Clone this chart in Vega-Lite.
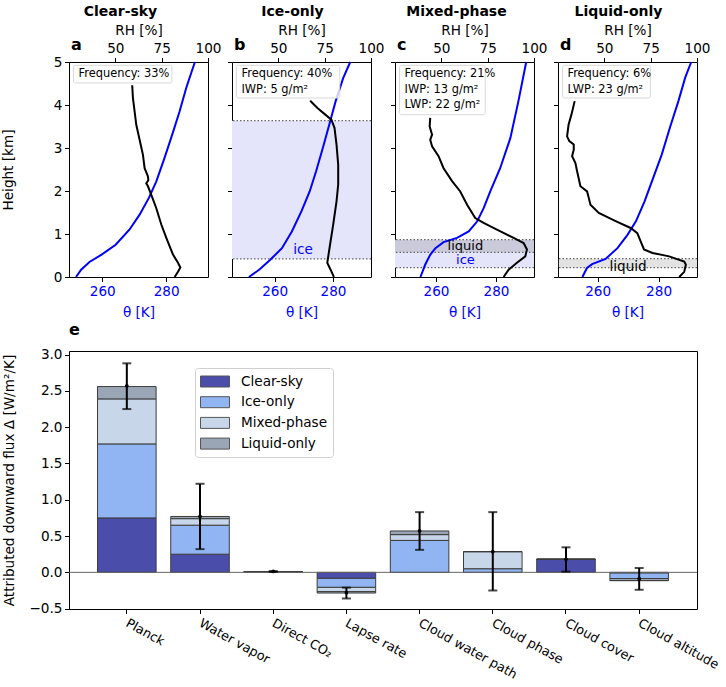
{
  "$schema": "https://vega.github.io/schema/vega-lite/v6.json",
  "padding": {"left": 0, "top": 4, "right": 0, "bottom": 0},
  "config": {
    "font": "DejaVu Sans",
    "view": {"stroke": "#000", "strokeWidth": 1},
    "axis": {"domain": false, "grid": false, "tickColor": "#000", "tickSize": 4.5, "tickWidth": 1, "labelFontSize": 13.6, "titleFontSize": 13.6, "titleFontWeight": "normal", "labelColor": "#000", "titleColor": "#000", "labelPadding": 2.5, "labelFlush": false, "labelOverlap": false, "titlePadding": 4},
    "axisY": {"labelOverlap": false},
    "title": {"fontSize": 14, "fontWeight": "bold", "color": "#000", "offset": 4}
  },
  "datasets": {
    "theta": [
      {"p": "a", "h": 0.0, "t": 251.8}, {"p": "a", "h": 0.17, "t": 253.4}, {"p": "a", "h": 0.35, "t": 256.0}, {"p": "a", "h": 0.52, "t": 259.8}, {"p": "a", "h": 0.75, "t": 264.2}, {"p": "a", "h": 1.1, "t": 268.5}, {"p": "a", "h": 1.45, "t": 271.7}, {"p": "a", "h": 1.84, "t": 274.6}, {"p": "a", "h": 2.22, "t": 276.9}, {"p": "a", "h": 2.77, "t": 279.5}, {"p": "a", "h": 3.31, "t": 281.9}, {"p": "a", "h": 3.85, "t": 284.2}, {"p": "a", "h": 4.4, "t": 286.3}, {"p": "a", "h": 5.0, "t": 289.0},
      {"p": "b", "h": 0.0, "t": 251.2}, {"p": "b", "h": 0.17, "t": 254.7}, {"p": "b", "h": 0.4, "t": 258.5}, {"p": "b", "h": 0.67, "t": 262.5}, {"p": "b", "h": 1.06, "t": 265.9}, {"p": "b", "h": 1.53, "t": 269.2}, {"p": "b", "h": 1.99, "t": 272.0}, {"p": "b", "h": 2.46, "t": 274.2}, {"p": "b", "h": 3.0, "t": 276.5}, {"p": "b", "h": 3.54, "t": 278.7}, {"p": "b", "h": 4.09, "t": 280.9}, {"p": "b", "h": 4.63, "t": 283.5}, {"p": "b", "h": 5.0, "t": 285.9},
      {"p": "c", "h": 0.0, "t": 254.8}, {"p": "c", "h": 0.29, "t": 256.4}, {"p": "c", "h": 0.52, "t": 258.1}, {"p": "c", "h": 0.67, "t": 259.8}, {"p": "c", "h": 0.81, "t": 262.5}, {"p": "c", "h": 0.91, "t": 267.0}, {"p": "c", "h": 1.06, "t": 270.9}, {"p": "c", "h": 1.29, "t": 273.7}, {"p": "c", "h": 1.6, "t": 275.9}, {"p": "c", "h": 1.99, "t": 278.1}, {"p": "c", "h": 2.53, "t": 281.4}, {"p": "c", "h": 3.23, "t": 284.8}, {"p": "c", "h": 4.09, "t": 287.5}, {"p": "c", "h": 5.0, "t": 290.1},
      {"p": "d", "h": 0.0, "t": 255.0}, {"p": "d", "h": 0.21, "t": 256.5}, {"p": "d", "h": 0.3, "t": 258.2}, {"p": "d", "h": 0.42, "t": 262.6}, {"p": "d", "h": 0.67, "t": 266.5}, {"p": "d", "h": 0.98, "t": 269.8}, {"p": "d", "h": 1.3, "t": 272.6}, {"p": "d", "h": 1.76, "t": 275.4}, {"p": "d", "h": 2.3, "t": 278.2}, {"p": "d", "h": 2.84, "t": 281.0}, {"p": "d", "h": 3.47, "t": 283.7}, {"p": "d", "h": 4.09, "t": 286.5}, {"p": "d", "h": 4.63, "t": 288.7}, {"p": "d", "h": 5.0, "t": 290.7}
    ],
    "rh": [
      {"p": "a", "h": 0.0, "r": 82.0}, {"p": "a", "h": 0.12, "r": 83.8}, {"p": "a", "h": 0.22, "r": 85.1}, {"p": "a", "h": 0.33, "r": 83.8}, {"p": "a", "h": 0.52, "r": 81.1}, {"p": "a", "h": 0.91, "r": 77.5}, {"p": "a", "h": 1.22, "r": 74.8}, {"p": "a", "h": 1.6, "r": 72.1}, {"p": "a", "h": 1.91, "r": 69.4}, {"p": "a", "h": 2.11, "r": 67.6}, {"p": "a", "h": 2.18, "r": 66.7}, {"p": "a", "h": 2.25, "r": 67.8}, {"p": "a", "h": 2.34, "r": 67.6}, {"p": "a", "h": 2.53, "r": 65.8}, {"p": "a", "h": 2.84, "r": 64.9}, {"p": "a", "h": 3.19, "r": 63.1}, {"p": "a", "h": 3.54, "r": 61.3}, {"p": "a", "h": 3.85, "r": 60.4}, {"p": "a", "h": 4.16, "r": 59.5}, {"p": "a", "h": 4.46, "r": 59.1},
      {"p": "b", "h": 0.0, "r": 80.0}, {"p": "b", "h": 0.17, "r": 78.2}, {"p": "b", "h": 0.33, "r": 76.4}, {"p": "b", "h": 0.44, "r": 76.8}, {"p": "b", "h": 0.75, "r": 77.9}, {"p": "b", "h": 1.22, "r": 79.6}, {"p": "b", "h": 1.76, "r": 81.4}, {"p": "b", "h": 2.15, "r": 82.3}, {"p": "b", "h": 2.61, "r": 82.3}, {"p": "b", "h": 3.08, "r": 81.4}, {"p": "b", "h": 3.47, "r": 80.3}, {"p": "b", "h": 3.66, "r": 78.6}, {"p": "b", "h": 3.77, "r": 75.5}, {"p": "b", "h": 3.93, "r": 71.1}, {"p": "b", "h": 4.1, "r": 67.2},
      {"p": "c", "h": 0.0, "r": 83.6}, {"p": "c", "h": 0.17, "r": 86.3}, {"p": "c", "h": 0.33, "r": 90.8}, {"p": "c", "h": 0.48, "r": 95.3}, {"p": "c", "h": 0.64, "r": 96.2}, {"p": "c", "h": 0.79, "r": 94.4}, {"p": "c", "h": 0.91, "r": 89.0}, {"p": "c", "h": 1.1, "r": 80.0}, {"p": "c", "h": 1.26, "r": 72.8}, {"p": "c", "h": 1.37, "r": 68.3}, {"p": "c", "h": 1.68, "r": 63.9}, {"p": "c", "h": 1.99, "r": 60.2}, {"p": "c", "h": 2.23, "r": 55.8}, {"p": "c", "h": 2.53, "r": 51.2}, {"p": "c", "h": 2.81, "r": 48.5}, {"p": "c", "h": 3.04, "r": 45.0}, {"p": "c", "h": 3.19, "r": 44.0}, {"p": "c", "h": 3.31, "r": 45.0}, {"p": "c", "h": 3.5, "r": 43.7}, {"p": "c", "h": 3.7, "r": 44.0},
      {"p": "d", "h": 0.0, "r": 90.4}, {"p": "d", "h": 0.12, "r": 93.1}, {"p": "d", "h": 0.29, "r": 94.0}, {"p": "d", "h": 0.36, "r": 93.1}, {"p": "d", "h": 0.48, "r": 85.0}, {"p": "d", "h": 0.56, "r": 76.0}, {"p": "d", "h": 0.64, "r": 71.4}, {"p": "d", "h": 0.83, "r": 69.6}, {"p": "d", "h": 1.02, "r": 67.8}, {"p": "d", "h": 1.14, "r": 64.2}, {"p": "d", "h": 1.3, "r": 56.1}, {"p": "d", "h": 1.49, "r": 47.0}, {"p": "d", "h": 1.68, "r": 42.5}, {"p": "d", "h": 1.84, "r": 41.6}, {"p": "d", "h": 1.99, "r": 40.7}, {"p": "d", "h": 2.11, "r": 37.1}, {"p": "d", "h": 2.46, "r": 35.3}, {"p": "d", "h": 2.65, "r": 34.4}, {"p": "d", "h": 2.81, "r": 32.6}, {"p": "d", "h": 2.96, "r": 33.5}, {"p": "d", "h": 3.08, "r": 33.5}, {"p": "d", "h": 3.16, "r": 31.1}, {"p": "d", "h": 3.27, "r": 29.9}, {"p": "d", "h": 3.54, "r": 30.7}, {"p": "d", "h": 3.77, "r": 32.2}, {"p": "d", "h": 4.09, "r": 34.0}
    ],
    "flux": [
      {"f": "Planck", "c": "Clear-sky", "v": 0.75}, {"f": "Planck", "c": "Ice-only", "v": 1.02}, {"f": "Planck", "c": "Mixed-phase", "v": 0.62}, {"f": "Planck", "c": "Liquid-only", "v": 0.17},
      {"f": "Water vapor", "c": "Clear-sky", "v": 0.25}, {"f": "Water vapor", "c": "Ice-only", "v": 0.4}, {"f": "Water vapor", "c": "Mixed-phase", "v": 0.09}, {"f": "Water vapor", "c": "Liquid-only", "v": 0.03},
      {"f": "Direct CO₂", "c": "Clear-sky", "v": 0.005}, {"f": "Direct CO₂", "c": "Ice-only", "v": 0.004}, {"f": "Direct CO₂", "c": "Mixed-phase", "v": 0.002}, {"f": "Direct CO₂", "c": "Liquid-only", "v": 0.001},
      {"f": "Lapse rate", "c": "Clear-sky", "v": -0.083}, {"f": "Lapse rate", "c": "Ice-only", "v": -0.124}, {"f": "Lapse rate", "c": "Mixed-phase", "v": -0.059}, {"f": "Lapse rate", "c": "Liquid-only", "v": -0.019},
      {"f": "Cloud water path", "c": "Clear-sky", "v": 0.0}, {"f": "Cloud water path", "c": "Ice-only", "v": 0.44}, {"f": "Cloud water path", "c": "Mixed-phase", "v": 0.08}, {"f": "Cloud water path", "c": "Liquid-only", "v": 0.05},
      {"f": "Cloud phase", "c": "Clear-sky", "v": 0.0}, {"f": "Cloud phase", "c": "Ice-only", "v": 0.05}, {"f": "Cloud phase", "c": "Mixed-phase", "v": 0.235}, {"f": "Cloud phase", "c": "Liquid-only", "v": 0.0},
      {"f": "Cloud cover", "c": "Clear-sky", "v": 0.18}, {"f": "Cloud cover", "c": "Ice-only", "v": 0.0}, {"f": "Cloud cover", "c": "Mixed-phase", "v": 0.0}, {"f": "Cloud cover", "c": "Liquid-only", "v": 0.0},
      {"f": "Cloud altitude", "c": "Clear-sky", "v": -0.01}, {"f": "Cloud altitude", "c": "Ice-only", "v": -0.075}, {"f": "Cloud altitude", "c": "Mixed-phase", "v": -0.025}, {"f": "Cloud altitude", "c": "Liquid-only", "v": -0.005}
    ],
    "err": [
      {"f": "Planck", "m": 2.57, "lo": 2.25, "hi": 2.88},
      {"f": "Water vapor", "m": 0.77, "lo": 0.32, "hi": 1.22},
      {"f": "Direct CO₂", "m": 0.012, "lo": 0.006, "hi": 0.018},
      {"f": "Lapse rate", "m": -0.28, "lo": -0.36, "hi": -0.21},
      {"f": "Cloud water path", "m": 0.57, "lo": 0.31, "hi": 0.83},
      {"f": "Cloud phase", "m": 0.285, "lo": -0.25, "hi": 0.83},
      {"f": "Cloud cover", "m": 0.18, "lo": 0.01, "hi": 0.345},
      {"f": "Cloud altitude", "m": -0.087, "lo": -0.24, "hi": 0.06}
    ]
  },
  "spacing": 1,
  "resolve": {"scale": {"color": "independent"}, "legend": {"color": "independent"}},
  "vconcat": [
    {
      "bounds": "flush",
      "spacing": 24,
      "hconcat": [
        {
          "width": 139, "height": 215,
          "title": {"text": "Clear-sky", "frame": "group", "dx": -18},
          "resolve": {"scale": {"x": "independent"}},
          "layer": [
            {"layer": [
              {"data": {"name": "theta"}, "transform": [{"filter": "datum.p == 'a'"}],
               "mark": {"type": "line", "color": "#0000ff", "strokeWidth": 2},
               "encoding": {
                 "x": {"field": "t", "type": "quantitative", "scale": {"domain": [249.6, 293.1], "nice": false, "zero": false}, "axis": {"orient": "bottom", "values": [260, 280], "title": "θ [K]", "labelColor": "#0000ff", "titleColor": "#0000ff", "titlePadding": 8}},
                 "y": {"field": "h", "type": "quantitative", "scale": {"domain": [0, 5], "nice": false}, "axis": {"values": [0, 1, 2, 3, 4, 5], "title": "Height [km]", "titlePadding": 38}},
                 "order": {"field": "h", "type": "quantitative"}}},
              {"data": {"values": [{}]}, "mark": {"type": "rect", "fill": "white", "fillOpacity": 0.8, "stroke": "#d8d8d8", "strokeWidth": 1, "cornerRadius": 2},
               "encoding": {"x": {"datum": 251.0}, "x2": {"datum": 281.8}, "y": {"datum": 4.923}, "y2": {"datum": 4.512}}},
              {"data": {"values": [{}]}, "mark": {"type": "text", "align": "left", "baseline": "top", "fontSize": 11.4, "lineHeight": 15.7, "text": ["Frequency: 33%"]},
               "encoding": {"x": {"datum": 252.6}, "y": {"datum": 4.86}}},
              {"data": {"values": [{}]}, "mark": {"type": "text", "align": "left", "baseline": "middle", "fontSize": 16, "fontWeight": "bold", "text": "a", "dy": -17, "dx": 2},
               "encoding": {"x": {"datum": 249.6}, "y": {"datum": 5}}}
            ]},
            {"data": {"name": "rh"}, "transform": [{"filter": "datum.p == 'a'"}],
             "mark": {"type": "line", "color": "#000", "strokeWidth": 2},
             "encoding": {
               "x": {"field": "r", "type": "quantitative", "scale": {"domain": [25, 100], "nice": false, "zero": false}, "axis": {"orient": "top", "values": [50, 75, 100], "title": "RH [%]"}},
               "y": {"field": "h", "type": "quantitative"},
               "order": {"field": "h", "type": "quantitative"}}}
          ]
        },
        {
          "width": 139, "height": 215,
          "title": {"text": "Ice-only", "frame": "group", "dx": -9},
          "resolve": {"scale": {"x": "independent"}},
          "layer": [
            {"layer": [
              {"data": {"values": [{}]}, "mark": {"type": "rect", "fill": "#e4e4fb"},
               "encoding": {"y": {"datum": 0.42}, "y2": {"datum": 3.635}}},
              {"data": {"values": [{}]}, "mark": {"type": "rule", "color": "#666", "strokeWidth": 1.2, "strokeDash": [1.5, 2]},
               "encoding": {"y": {"datum": 0.42}}},
              {"data": {"values": [{}]}, "mark": {"type": "rule", "color": "#666", "strokeWidth": 1.2, "strokeDash": [1.5, 2]},
               "encoding": {"y": {"datum": 3.635}}},
              {"data": {"name": "theta"}, "transform": [{"filter": "datum.p == 'b'"}],
               "mark": {"type": "line", "color": "#0000ff", "strokeWidth": 2},
               "encoding": {
                 "x": {"field": "t", "type": "quantitative", "scale": {"domain": [245.4, 293.0], "nice": false, "zero": false}, "axis": {"orient": "bottom", "values": [260, 280], "title": "θ [K]", "labelColor": "#0000ff", "titleColor": "#0000ff", "titlePadding": 8}},
                 "y": {"field": "h", "type": "quantitative", "scale": {"domain": [0, 5], "nice": false}, "axis": {"values": [0, 1, 2, 3, 4, 5], "labels": false, "title": null}},
                 "order": {"field": "h", "type": "quantitative"}}},
              {"data": {"values": [{}]}, "mark": {"type": "text", "align": "center", "baseline": "middle", "fontSize": 13.6, "color": "#0000ff", "text": "ice"},
               "encoding": {"x": {"datum": 269.7}, "y": {"datum": 0.63}}},
              {"data": {"values": [{}]}, "mark": {"type": "rect", "fill": "white", "fillOpacity": 0.8, "stroke": "#d8d8d8", "strokeWidth": 1, "cornerRadius": 2},
               "encoding": {"x": {"datum": 246.9}, "x2": {"datum": 282.3}, "y": {"datum": 4.923}, "y2": {"datum": 4.163}}},
              {"data": {"values": [{}]}, "mark": {"type": "text", "align": "left", "baseline": "top", "fontSize": 11.4, "lineHeight": 15.7, "text": ["Frequency: 40%", "IWP: 5 g/m²"]},
               "encoding": {"x": {"datum": 248.65}, "y": {"datum": 4.86}}},
              {"data": {"values": [{}]}, "mark": {"type": "text", "align": "left", "baseline": "middle", "fontSize": 16, "fontWeight": "bold", "text": "b", "dy": -17, "dx": 2},
               "encoding": {"x": {"datum": 245.4}, "y": {"datum": 5}}}
            ]},
            {"data": {"name": "rh"}, "transform": [{"filter": "datum.p == 'b'"}],
             "mark": {"type": "line", "color": "#000", "strokeWidth": 2},
             "encoding": {
               "x": {"field": "r", "type": "quantitative", "scale": {"domain": [25, 100], "nice": false, "zero": false}, "axis": {"orient": "top", "values": [50, 75, 100], "title": "RH [%]"}},
               "y": {"field": "h", "type": "quantitative"},
               "order": {"field": "h", "type": "quantitative"}}}
          ]
        },
        {
          "width": 139, "height": 215,
          "title": {"text": "Mixed-phase", "frame": "group", "dx": -8},
          "resolve": {"scale": {"x": "independent"}},
          "layer": [
            {"layer": [
              {"data": {"values": [{}]}, "mark": {"type": "rect", "fill": "#e4e4fb"},
               "encoding": {"y": {"datum": 0.216}, "y2": {"datum": 0.867}}},
              {"data": {"values": [{}]}, "mark": {"type": "rect", "fill": "#808080", "opacity": 0.26},
               "encoding": {"y": {"datum": 0.574}, "y2": {"datum": 0.867}}},
              {"data": {"values": [{}]}, "mark": {"type": "rule", "color": "#666", "strokeWidth": 1.2, "strokeDash": [1.5, 2]},
               "encoding": {"y": {"datum": 0.216}}},
              {"data": {"values": [{}]}, "mark": {"type": "rule", "color": "#666", "strokeWidth": 1.2, "strokeDash": [1.5, 2]},
               "encoding": {"y": {"datum": 0.574}}},
              {"data": {"values": [{}]}, "mark": {"type": "rule", "color": "#666", "strokeWidth": 1.2, "strokeDash": [1.5, 2]},
               "encoding": {"y": {"datum": 0.867}}},
              {"data": {"name": "theta"}, "transform": [{"filter": "datum.p == 'c'"}],
               "mark": {"type": "line", "color": "#0000ff", "strokeWidth": 2},
               "encoding": {
                 "x": {"field": "t", "type": "quantitative", "scale": {"domain": [246.3, 292.7], "nice": false, "zero": false}, "axis": {"orient": "bottom", "values": [260, 280], "title": "θ [K]", "labelColor": "#0000ff", "titleColor": "#0000ff", "titlePadding": 8}},
                 "y": {"field": "h", "type": "quantitative", "scale": {"domain": [0, 5], "nice": false}, "axis": {"values": [0, 1, 2, 3, 4, 5], "labels": false, "title": null}},
                 "order": {"field": "h", "type": "quantitative"}}},
              {"data": {"values": [{}]}, "mark": {"type": "text", "align": "center", "baseline": "middle", "fontSize": 13, "color": "#000", "text": "liquid"},
               "encoding": {"x": {"datum": 269.8}, "y": {"datum": 0.725}}},
              {"data": {"values": [{}]}, "mark": {"type": "text", "align": "center", "baseline": "middle", "fontSize": 13, "color": "#0000ff", "text": "ice"},
               "encoding": {"x": {"datum": 269.8}, "y": {"datum": 0.385}}},
              {"data": {"values": [{}]}, "mark": {"type": "rect", "fill": "white", "fillOpacity": 0.8, "stroke": "#d8d8d8", "strokeWidth": 1, "cornerRadius": 2},
               "encoding": {"x": {"datum": 247.8}, "x2": {"datum": 276.4}, "y": {"datum": 4.923}, "y2": {"datum": 3.774}}},
              {"data": {"values": [{}]}, "mark": {"type": "text", "align": "left", "baseline": "top", "fontSize": 11.4, "lineHeight": 15.7, "text": ["Frequency: 21%", "IWP: 13 g/m²", "LWP: 22 g/m²"]},
               "encoding": {"x": {"datum": 249.5}, "y": {"datum": 4.86}}},
              {"data": {"values": [{}]}, "mark": {"type": "text", "align": "left", "baseline": "middle", "fontSize": 16, "fontWeight": "bold", "text": "c", "dy": -17, "dx": 2},
               "encoding": {"x": {"datum": 246.3}, "y": {"datum": 5}}}
            ]},
            {"data": {"name": "rh"}, "transform": [{"filter": "datum.p == 'c'"}],
             "mark": {"type": "line", "color": "#000", "strokeWidth": 2},
             "encoding": {
               "x": {"field": "r", "type": "quantitative", "scale": {"domain": [25, 100], "nice": false, "zero": false}, "axis": {"orient": "top", "values": [50, 75, 100], "title": "RH [%]"}},
               "y": {"field": "h", "type": "quantitative"},
               "order": {"field": "h", "type": "quantitative"}}}
          ]
        },
        {
          "width": 139, "height": 215,
          "title": {"text": "Liquid-only", "frame": "group", "dx": -9},
          "resolve": {"scale": {"x": "independent"}},
          "layer": [
            {"layer": [
              {"data": {"values": [{}]}, "mark": {"type": "rect", "fill": "#808080", "opacity": 0.22},
               "encoding": {"y": {"datum": 0.216}, "y2": {"datum": 0.426}}},
              {"data": {"values": [{}]}, "mark": {"type": "rule", "color": "#666", "strokeWidth": 1.2, "strokeDash": [1.5, 2]},
               "encoding": {"y": {"datum": 0.216}}},
              {"data": {"values": [{}]}, "mark": {"type": "rule", "color": "#666", "strokeWidth": 1.2, "strokeDash": [1.5, 2]},
               "encoding": {"y": {"datum": 0.426}}},
              {"data": {"name": "theta"}, "transform": [{"filter": "datum.p == 'd'"}],
               "mark": {"type": "line", "color": "#0000ff", "strokeWidth": 2},
               "encoding": {
                 "x": {"field": "t", "type": "quantitative", "scale": {"domain": [247.0, 292.6], "nice": false, "zero": false}, "axis": {"orient": "bottom", "values": [260, 280], "title": "θ [K]", "labelColor": "#0000ff", "titleColor": "#0000ff", "titlePadding": 8}},
                 "y": {"field": "h", "type": "quantitative", "scale": {"domain": [0, 5], "nice": false}, "axis": {"values": [0, 1, 2, 3, 4, 5], "labels": false, "title": null}},
                 "order": {"field": "h", "type": "quantitative"}}},
              {"data": {"values": [{}]}, "mark": {"type": "text", "align": "center", "baseline": "middle", "fontSize": 13.6, "color": "#000", "text": "liquid"},
               "encoding": {"x": {"datum": 270.0}, "y": {"datum": 0.24}}},
              {"data": {"values": [{}]}, "mark": {"type": "rect", "fill": "white", "fillOpacity": 0.8, "stroke": "#d8d8d8", "strokeWidth": 1, "cornerRadius": 2},
               "encoding": {"x": {"datum": 248.5}, "x2": {"datum": 277.3}, "y": {"datum": 4.923}, "y2": {"datum": 4.163}}},
              {"data": {"values": [{}]}, "mark": {"type": "text", "align": "left", "baseline": "top", "fontSize": 11.4, "lineHeight": 15.7, "text": ["Frequency: 6%", "LWP: 23 g/m²"]},
               "encoding": {"x": {"datum": 250.1}, "y": {"datum": 4.86}}},
              {"data": {"values": [{}]}, "mark": {"type": "text", "align": "left", "baseline": "middle", "fontSize": 16, "fontWeight": "bold", "text": "d", "dy": -17, "dx": 2},
               "encoding": {"x": {"datum": 247.0}, "y": {"datum": 5}}}
            ]},
            {"data": {"name": "rh"}, "transform": [{"filter": "datum.p == 'd'"}],
             "mark": {"type": "line", "color": "#000", "strokeWidth": 2},
             "encoding": {
               "x": {"field": "r", "type": "quantitative", "scale": {"domain": [25, 100], "nice": false, "zero": false}, "axis": {"orient": "top", "values": [50, 75, 100], "title": "RH [%]"}},
               "y": {"field": "h", "type": "quantitative"},
               "order": {"field": "h", "type": "quantitative"}}}
          ]
        }
      ]
    },
    {
      "width": 628, "height": 258,
      "title": {"text": "e", "anchor": "start", "frame": "group", "fontSize": 16, "offset": 10},
      "encoding": {
        "y": {"type": "quantitative", "scale": {"domain": [-0.505, 3.05], "nice": false, "zero": false}, "axis": {"values": [-0.5, 0, 0.5, 1, 1.5, 2, 2.5, 3], "labelOverlap": false, "labelExpr": "(datum.value < 0 ? '−' : '') + format(abs(datum.value), '.1f')", "title": "Attributed downward flux Δ [W/m²/K]", "titlePadding": 12}}
      },
      "layer": [
        {"data": {"name": "flux"},
         "transform": [{"calculate": "indexof(['Clear-sky', 'Ice-only', 'Mixed-phase', 'Liquid-only'], datum.c)", "as": "k"}],
         "mark": {"type": "bar", "stroke": "#3c3c3c", "strokeWidth": 1},
         "encoding": {
           "x": {"field": "f", "type": "nominal", "sort": ["Planck", "Water vapor", "Direct CO₂", "Lapse rate", "Cloud water path", "Cloud phase", "Cloud cover", "Cloud altitude"], "scale": {"paddingInner": 0.2, "paddingOuter": 0.39}, "axis": {"title": null, "labelAngle": 29, "labelAlign": "left", "labelBaseline": "top", "labelFontSize": 12.8, "labelPadding": 3, "labelOffset": 3}},
           "y": {"field": "v", "type": "quantitative", "stack": "zero"},
           "color": {"field": "c", "type": "nominal", "scale": {"domain": ["Clear-sky", "Ice-only", "Mixed-phase", "Liquid-only"], "range": ["#4b4dab", "#91b5f2", "#c8d6ea", "#9aa6b5"]},
             "legend": {"title": null, "orient": "none", "legendX": 126, "legendY": 17, "symbolType": "M-1.8125,-0.6875H1.8125V0.6875H-1.8125Z", "symbolSize": 256, "symbolOffset": 6.5, "symbolStrokeColor": "#555", "symbolStrokeWidth": 1, "symbolOpacity": 1, "labelFontSize": 13.6, "labelColor": "#000", "rowPadding": 4.7, "padding": 5, "fillColor": "#fff", "strokeColor": "#d0d0d0", "cornerRadius": 3, "labelOffset": 17.5}},
           "order": {"field": "k", "type": "quantitative"}}},
        {"data": {"values": [{}]}, "mark": {"type": "rule", "color": "#666", "strokeWidth": 1},
         "encoding": {"y": {"datum": 0}}},
        {"data": {"name": "err"}, "mark": {"type": "rule", "color": "#000", "strokeWidth": 2},
         "encoding": {"x": {"field": "f", "type": "nominal", "sort": ["Planck", "Water vapor", "Direct CO₂", "Lapse rate", "Cloud water path", "Cloud phase", "Cloud cover", "Cloud altitude"]}, "y": {"field": "lo"}, "y2": {"field": "hi"}}},
        {"data": {"name": "err"}, "mark": {"type": "tick", "color": "#000", "thickness": 2, "size": 9},
         "encoding": {"x": {"field": "f", "type": "nominal", "sort": ["Planck", "Water vapor", "Direct CO₂", "Lapse rate", "Cloud water path", "Cloud phase", "Cloud cover", "Cloud altitude"]}, "y": {"field": "lo"}}},
        {"data": {"name": "err"}, "mark": {"type": "tick", "color": "#000", "thickness": 2, "size": 9},
         "encoding": {"x": {"field": "f", "type": "nominal", "sort": ["Planck", "Water vapor", "Direct CO₂", "Lapse rate", "Cloud water path", "Cloud phase", "Cloud cover", "Cloud altitude"]}, "y": {"field": "hi"}}},
        {"data": {"name": "err"}, "mark": {"type": "point", "filled": true, "color": "#000", "size": 14, "opacity": 1},
         "encoding": {"x": {"field": "f", "type": "nominal", "sort": ["Planck", "Water vapor", "Direct CO₂", "Lapse rate", "Cloud water path", "Cloud phase", "Cloud cover", "Cloud altitude"]}, "y": {"field": "m"}}}
      ]
    }
  ]
}
